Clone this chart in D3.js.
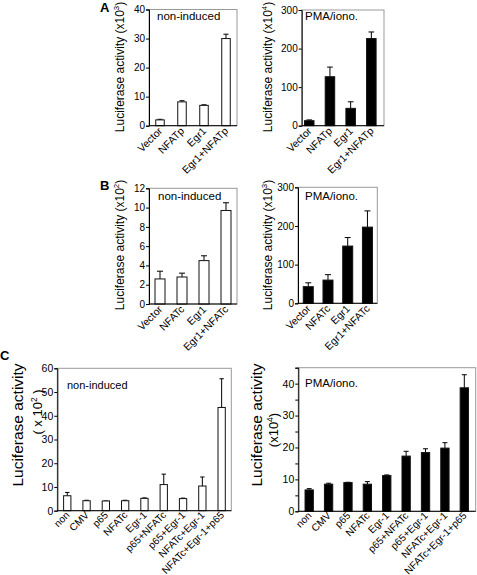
<!DOCTYPE html>
<html><head><meta charset="utf-8">
<script src="https://cdn.jsdelivr.net/npm/d3@7"></script>
<style>
body{margin:0;background:#fff;}
text{font-family:"Liberation Sans",Arial,sans-serif;}
</style></head>
<body><svg id="c" width="477" height="575"></svg>
<script>
// ---- data ----
const catsA = ["Vector","NFATp","Egr1","Egr1+NFATp"];
const aNonVals = [2, 8.2, 7, 30];
const aNonErr  = [0.2, 0.4, 0.2, 1.5];
const aPmaVals = [13, 127, 45, 226];
const aPmaErr  = [2, 25, 17, 17];

const catsB = ["Vector","NFATc","Egr1","Egr1+NFATc"];
const bNonVals = [2.6, 2.8, 4.5, 9.7];
const bNonErr  = [0.8, 0.4, 0.5, 0.8];
const bPmaVals = [43, 60, 148, 197];
const bPmaErr  = [10, 14, 22, 42];

const catsC = ["non","CMV","p65","NFATc","Egr-1","p65+NFATc","p65+Egr-1","NFATc+Egr-1","NFATc+Egr-1+p65"];
const cNonVals = [6.3, 4.2, 4.1, 4.2, 5.2, 11, 5.1, 10.4, 43.5];
const cNonErr  = [1.4, 0.2, 0, 0.2, 0.2, 4.4, 0.2, 3.8, 12.1];
const cPmaVals = [6.7, 8.5, 9.0, 8.5, 11.2, 17.3, 18.4, 19.8, 38.7];
const cPmaErr  = [0.4, 0.3, 0.1, 0.8, 0.2, 1.5, 1.2, 1.7, 4.1];

const ticksA1 = [0,10,20,30,40];
const ticksA2 = [0,100,200,300];
const ticksB1 = [0,2,4,6,8,10,12];
const ticksB2 = [0,100,200,300];
const ticksC1 = [0,10,20,30,40,50,60];
const ticksC2 = [0,5,10,15,20,25,30,35,40,45];

const svg = d3.select("#c");

function panel(o){
  const g = svg.append("g");
  const y = d3.scaleLinear().domain([0,o.max]).range([o.y0,o.y1]);
  const x = d3.scaleBand().domain(o.cats).range(o.xr).paddingInner(o.pad).paddingOuter(o.pad/2);
  g.append("rect").attr("x",o.fx0).attr("y",o.y1).attr("width",o.fx1-o.fx0).attr("height",o.y0-o.y1)
    .attr("fill","none").attr("stroke","#999").attr("stroke-width",1);
  const bw = o.bw, cx = d=>x(d)+x.bandwidth()/2;
  g.selectAll(".err").data(o.cats).enter().append("path")
    .attr("d",(d,i)=>{const t=y(o.vals[i]+o.errs[i]), b=y(o.vals[i]); const c=cx(d);
      return `M${c},${b}V${t}M${c-bw*0.3},${t}H${c+bw*0.3}`;})
    .attr("stroke","#000").attr("stroke-width",1).attr("fill","none");
  g.selectAll(".bar").data(o.cats).enter().append("rect")
    .attr("x",d=>cx(d)-bw/2).attr("width",bw)
    .attr("y",(d,i)=>y(o.vals[i])).attr("height",(d,i)=>o.y0-y(o.vals[i]))
    .attr("fill",o.fill).attr("stroke","#111").attr("stroke-width",1);
  const ax = d3.axisLeft(y).tickValues(o.ticks).tickSize(3).tickPadding(1)
    .tickFormat(v=> (o.labelTicks && !o.labelTicks.includes(v)) ? "" : v);
  const ag = g.append("g").attr("transform",`translate(${o.fx0},0)`).call(ax);
  ag.select(".domain").attr("stroke","#000");
  ag.selectAll("text").attr("font-size",o.tfs).attr("fill","#000");
  ag.selectAll("line").attr("stroke","#000");
  g.append("line").attr("x1",o.fx0).attr("x2",o.fx1).attr("y1",o.y0).attr("y2",o.y0).attr("stroke","#000");
  g.selectAll(".xl").data(o.cats).enter().append("text")
    .attr("transform",d=>`translate(${cx(d)+3},${o.y0+(o.xdy||6)}) rotate(-45)`)
    .attr("text-anchor","end").attr("font-size",o.xfs).text(d=>d);
  g.append("text").attr("x",o.ix).attr("y",o.iy).attr("font-size",o.ifs).text(o.inset);
  return {g,y,x};
}

function ytitle(x,y,fs,main,sup,post){
  const t = svg.append("text").attr("transform",`translate(${x},${y}) rotate(-90)`)
    .attr("text-anchor","middle").attr("font-size",fs);
  t.append("tspan").text(main);
  t.append("tspan").attr("dy",-fs*0.4).attr("font-size",fs*0.65).text(sup);
  t.append("tspan").attr("dy",fs*0.4).text(post);
}

panel({cats:catsA,vals:aNonVals,errs:aNonErr,max:40,y0:125.7,y1:9.5,fx0:149,fx1:237,xr:[149,237],pad:0.6,bw:8.5,
  fill:"#fff",ticks:ticksA1,tfs:10,xfs:10.5,inset:"non-induced",ix:157,iy:20,ifs:11.5});
panel({cats:catsA,vals:aPmaVals,errs:aPmaErr,max:300,y0:125.7,y1:10,fx0:301.7,fx1:384,xr:[298.9,381.7],pad:0.55,bw:9.5,
  fill:"#000",ticks:ticksA2,tfs:10,xfs:10.5,inset:"PMA/iono.",ix:305,iy:20,ifs:11.5});
panel({cats:catsB,vals:bNonVals,errs:bNonErr,max:12,y0:304,y1:188.3,fx0:149,fx1:237,xr:[149,237],pad:0.55,bw:10,
  fill:"#fff",ticks:ticksB1,tfs:10,xfs:10.5,inset:"non-induced",ix:158,iy:200,ifs:11.5});
panel({cats:catsB,vals:bPmaVals,errs:bPmaErr,max:300,y0:303.3,y1:187.3,fx0:298,fx1:377.3,xr:[298.4,377.3],pad:0.5,bw:10,
  fill:"#000",ticks:ticksB2,tfs:10,xfs:10.5,inset:"PMA/iono.",ix:305,iy:200,ifs:11.5});
panel({cats:catsC,vals:cNonVals,errs:cNonErr,max:60,y0:510.7,y1:368.3,fx0:57.3,fx1:231.3,xr:[57.6,231.3],pad:0.62,bw:7.3,
  fill:"#fff",ticks:ticksC1,tfs:10.5,xfs:10.2,xdy:5,inset:"non-induced",ix:67,iy:389,ifs:11});
panel({cats:catsC,vals:cPmaVals,errs:cPmaErr,max:45,y0:511.3,y1:367.7,fx0:298.3,fx1:475.7,xr:[299.5,474],pad:0.57,bw:8.3,
  fill:"#000",ticks:ticksC2,labelTicks:[0,10,20,30,40],tfs:10.5,xfs:10.2,xdy:5,inset:"PMA/iono.",ix:305,iy:387,ifs:11.5});

ytitle(124,67,12,"Luciferase activity (x10","3",")");
ytitle(272,67,12,"Luciferase activity (x10","4",")");
ytitle(124,245,12,"Luciferase activity (x10","2",")");
ytitle(272,245,12,"Luciferase activity (x10","3",")");
svg.append("text").attr("transform","translate(23,425) rotate(-90)").attr("text-anchor","middle")
  .attr("font-size",15.5).text("Luciferase activity");
ytitle(42,412,13,"( x 10","2"," )");
svg.append("text").attr("transform","translate(262,425) rotate(-90)").attr("text-anchor","middle")
  .attr("font-size",15.5).text("Luciferase activity");
ytitle(278,430,13,"(x10","4",")");

svg.append("text").attr("x",100).attr("y",12).attr("font-size",13).attr("font-weight","bold").text("A");
svg.append("text").attr("x",100).attr("y",190).attr("font-size",13).attr("font-weight","bold").text("B");
svg.append("text").attr("x",0).attr("y",360).attr("font-size",13).attr("font-weight","bold").text("C");
</script></body></html>
